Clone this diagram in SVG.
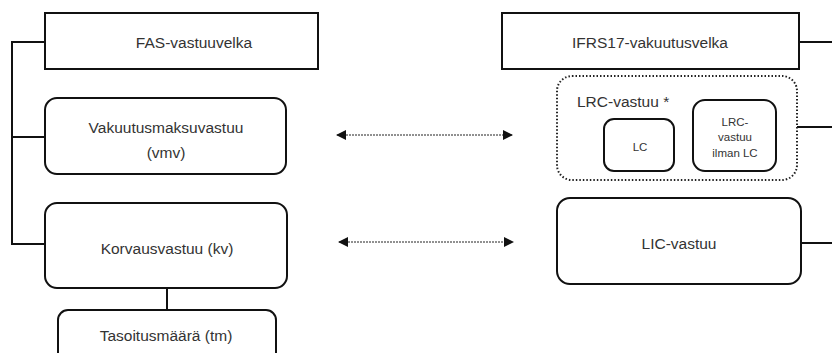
<svg xmlns="http://www.w3.org/2000/svg" width="832" height="353" viewBox="0 0 832 353">
<style>
.box{fill:#fff;stroke:#111;stroke-width:2}
.dot{fill:none;stroke:#222;stroke-width:2;stroke-dasharray:1.5 2}
.ln{fill:none;stroke:#111;stroke-width:2}
.arr{fill:none;stroke:#222;stroke-width:1;stroke-dasharray:2 1}
text{font-family:"Liberation Sans",Arial,sans-serif;fill:#333;text-anchor:middle;dominant-baseline:central}
.t{font-size:15.5px}
.s{font-size:11.5px}
</style>
<defs>
<marker id="ah" viewBox="0 0 10 10" refX="9" refY="5" markerWidth="10" markerHeight="10" markerUnits="userSpaceOnUse" orient="auto-start-reverse">
<path d="M0,0 L10,5 L0,10 Z" fill="#111"/>
</marker>
</defs>
<g id="connectors">
<path class="ln" d="M45,42 H12 V244 H45 M12,137 H45"/>
<path class="ln" d="M167,288 V310"/>
<path class="ln" d="M799,42 H832 M797,127 H832 M801,243 H832"/>
<path class="arr" d="M337,135 H512" marker-start="url(#ah)" marker-end="url(#ah)"/>
<path class="arr" d="M339,242 H513" marker-start="url(#ah)" marker-end="url(#ah)"/>
</g>
<g id="fas"><rect class="box" x="45" y="13" width="273" height="56"/><text class="t" x="194" y="42">FAS-vastuuvelka</text></g>
<g id="vmv"><rect class="box" x="45" y="98" width="241" height="76" rx="12"/><text class="t" x="166" y="127">Vakuutusmaksuvastuu</text><text class="t" x="166" y="152">(vmv)</text></g>
<g id="kv"><rect class="box" x="45" y="203" width="242" height="85" rx="12"/><text class="t" x="167" y="248">Korvausvastuu (kv)</text></g>
<g id="tm"><rect class="box" x="58" y="310" width="218" height="56" rx="10"/><text class="t" x="166" y="335">Tasoitusmäärä (tm)</text></g>
<g id="ifrs"><rect class="box" x="502" y="13" width="297" height="56"/><text class="t" x="650" y="42">IFRS17-vakuutusvelka</text></g>
<g id="lrc"><rect class="dot" x="557" y="76" width="240" height="104" rx="15"/><text class="t" x="577" y="101" style="text-anchor:start">LRC-vastuu *</text></g>
<g id="lc"><rect class="box" x="604" y="119" width="70" height="52" rx="10"/><text class="s" x="640" y="147">LC</text></g>
<g id="lrc-ilman"><rect class="box" x="693" y="100" width="83" height="71" rx="12"/><text class="s" x="735" y="122">LRC-</text><text class="s" x="735" y="137">vastuu</text><text class="s" x="735" y="153">ilman LC</text></g>
<g id="lic"><rect class="box" x="557" y="198" width="244" height="86" rx="13"/><text class="t" x="679" y="243">LIC-vastuu</text></g>
</svg>
